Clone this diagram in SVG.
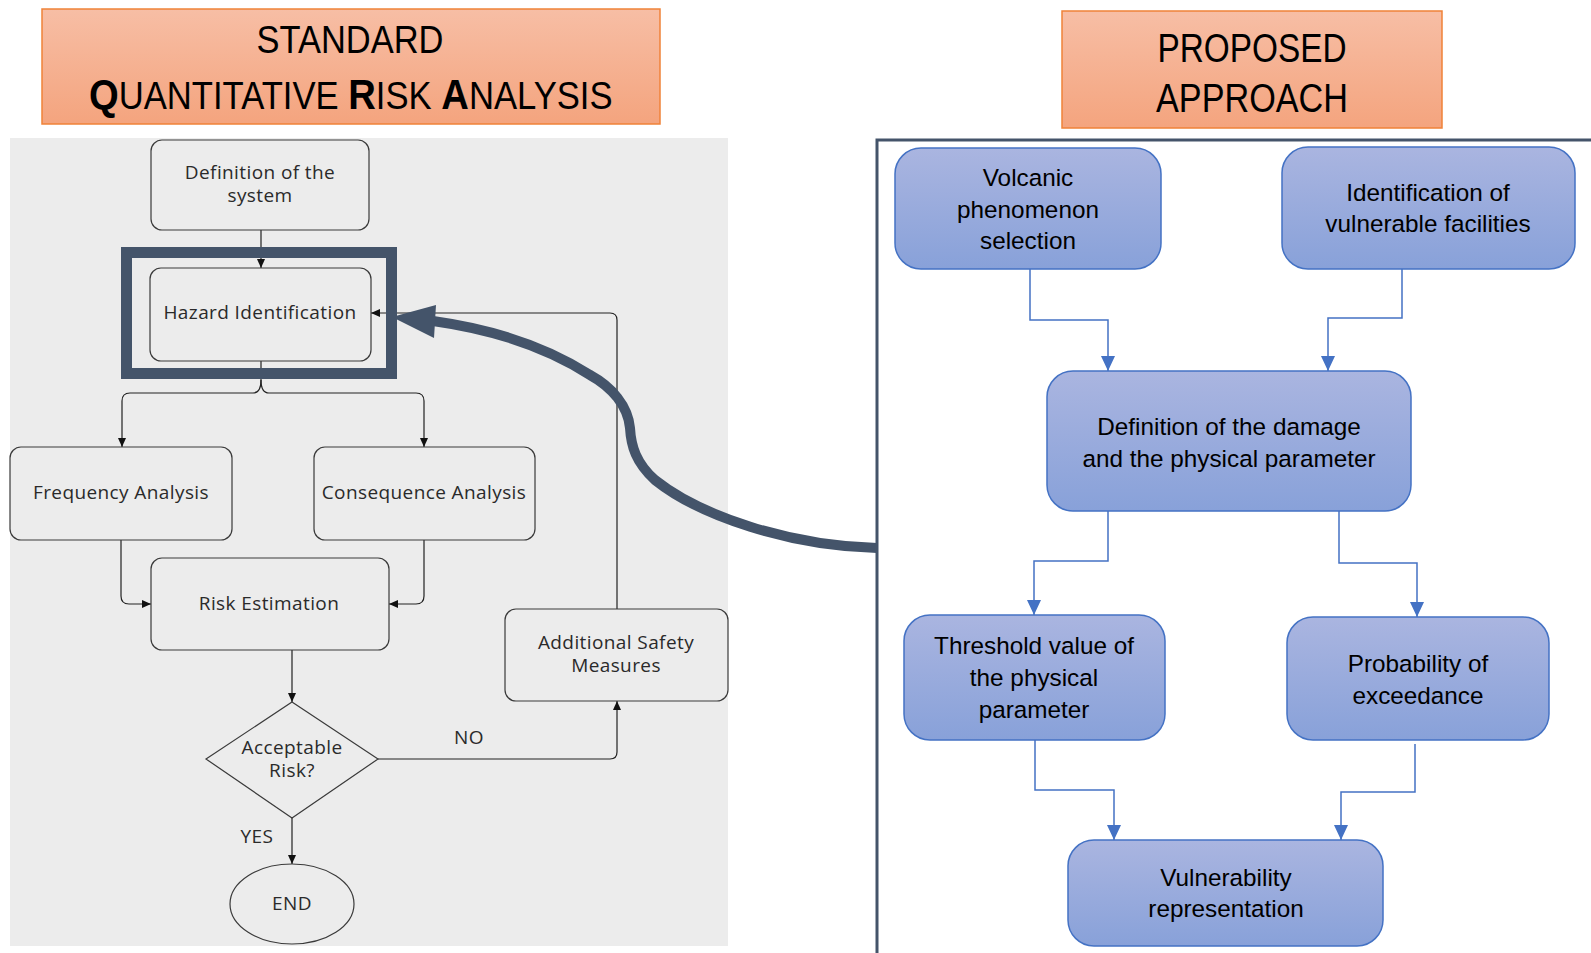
<svg xmlns="http://www.w3.org/2000/svg" width="1591" height="953" viewBox="0 0 1591 953">
<defs>
<linearGradient id="gOr" x1="0" y1="0" x2="0" y2="1">
<stop offset="0" stop-color="#f7bea5"/><stop offset="1" stop-color="#f4a47e"/>
</linearGradient>
<linearGradient id="gBl" x1="0" y1="0" x2="0" y2="1">
<stop offset="0" stop-color="#aab5e0"/><stop offset="1" stop-color="#88a1d9"/>
</linearGradient>
<marker id="aK" markerUnits="userSpaceOnUse" markerWidth="9" markerHeight="8" refX="9" refY="4" orient="auto">
<path d="M0,0 L9,4 L0,8 z" fill="#111"/>
</marker>
<marker id="aB" markerUnits="userSpaceOnUse" markerWidth="15" markerHeight="14" refX="15" refY="7" orient="auto">
<path d="M0,0 L15,7 L0,14 z" fill="#4472c4"/>
</marker>
<style>
.hdr{fill:url(#gOr);stroke:#f08238;stroke-width:1.5}
.ht{font-family:"Liberation Sans",Arial,sans-serif;fill:#000}
.lb{fill:#ececec;stroke:#3a3a3a;stroke-width:1.2}
.lt{font-family:"Open Sans","Liberation Sans",sans-serif;font-size:19px;fill:#2a2a2a;text-anchor:middle;letter-spacing:0.4px}
.bb{fill:url(#gBl);stroke:#4472c4;stroke-width:1.5}
.bt{font-family:"Liberation Sans",Arial,sans-serif;font-size:24.3px;fill:#000;text-anchor:middle}
.ck{fill:none;stroke:#222;stroke-width:1.2;marker-end:url(#aK)}
.cb{fill:none;stroke:#4472c4;stroke-width:1.5;marker-end:url(#aB)}
</style>
</defs>
<rect width="1591" height="953" fill="#fff"/>
<rect x="10" y="138" width="718" height="808" fill="#ececec"/>

<g id="header-standard">
<rect class="hdr" x="42" y="9" width="618" height="115"/>
<text class="ht" x="350" y="53" font-size="39" text-anchor="middle" textLength="187" lengthAdjust="spacingAndGlyphs">STANDARD</text>
<g transform="translate(89,109) scale(0.888,1)">
<text class="ht" x="0" y="0" font-size="39"><tspan font-weight="bold" font-size="43">Q</tspan>UANTITATIVE <tspan font-weight="bold" font-size="43">R</tspan>ISK <tspan font-weight="bold" font-size="43">A</tspan>NALYSIS</text>
</g>
</g>

<g id="header-proposed">
<rect class="hdr" x="1062" y="11" width="380" height="117"/>
<text class="ht" x="1252" y="62" font-size="41" text-anchor="middle" textLength="189" lengthAdjust="spacingAndGlyphs">PROPOSED</text>
<text class="ht" x="1252" y="112" font-size="41" text-anchor="middle" textLength="192" lengthAdjust="spacingAndGlyphs">APPROACH</text>
</g>

<g id="proposed-frame">
<path d="M1591 140 H877 V953" fill="none" stroke="#44546a" stroke-width="3"/>
</g>

<g id="connectors">
<path class="ck" d="M261 230 V268"/>
<path class="ck" d="M261 361 V380 Q261 393 253 393 H130 Q122 393 122 401 V447"/>
<path class="ck" d="M261 380 Q261 393 269 393 H416 Q424 393 424 401 V447"/>
<path class="ck" d="M121 540 V596 Q121 604 129 604 H151"/>
<path class="ck" d="M424 540 V596 Q424 604 416 604 H389"/>
<path class="ck" d="M292 650 V702"/>
<path class="ck" d="M378 759 H610 Q617 759 617 752 V701"/>
<path class="ck" d="M292 818 V864"/>
<path class="ck" d="M617 609 V320 Q617 313 610 313 H371"/>
<text class="lt" x="469" y="744">NO</text>
<text class="lt" x="257" y="843">YES</text>

<path class="cb" d="M1030 269 V320 H1108 V371"/>
<path class="cb" d="M1402 269 V318 H1328 V371"/>
<path class="cb" d="M1108 511 V561 H1034 V615"/>
<path class="cb" d="M1339 511 V563 H1417 V617"/>
<path class="cb" d="M1035 740 V790 H1114 V840"/>
<path class="cb" d="M1415 744 V792 H1341 V840"/>

<path d="M877 548 C790 546 700 516 655 480 C636 463 631 446 630 428 C628 406 612 387 590 375 C545 346 490 329 433 321" fill="none" stroke="#44546a" stroke-width="10"/>
<polygon points="392,317 436,305 434,338" fill="#44546a"/>
</g>

<g id="def-system">
<rect class="lb" x="151" y="140" width="218" height="90" rx="11"/>
<text class="lt" x="260" y="179">Definition of the</text>
<text class="lt" x="260" y="202">system</text>
</g>
<g id="hazard">
<rect class="lb" x="150" y="268" width="221" height="93" rx="11"/>
<text class="lt" x="260" y="319">Hazard Identification</text>
<rect x="126.5" y="252.5" width="265" height="121" fill="none" stroke="#44546a" stroke-width="11"/>
</g>
<g id="frequency">
<rect class="lb" x="10" y="447" width="222" height="93" rx="11"/>
<text class="lt" x="121" y="499">Frequency Analysis</text>
</g>
<g id="consequence">
<rect class="lb" x="314" y="447" width="221" height="93" rx="11"/>
<text class="lt" x="424" y="499">Consequence Analysis</text>
</g>
<g id="risk-estimation">
<rect class="lb" x="151" y="558" width="238" height="92" rx="11"/>
<text class="lt" x="269" y="610">Risk Estimation</text>
</g>
<g id="additional-safety">
<rect class="lb" x="505" y="609" width="223" height="92" rx="11"/>
<text class="lt" x="616" y="649">Additional Safety</text>
<text class="lt" x="616" y="672">Measures</text>
</g>
<g id="acceptable-risk">
<polygon class="lb" points="292,702 378,759 292,818 206,759"/>
<text class="lt" x="292" y="754">Acceptable</text>
<text class="lt" x="292" y="777">Risk?</text>
</g>
<g id="end">
<ellipse class="lb" cx="292" cy="904" rx="62" ry="40"/>
<text class="lt" x="292" y="910">END</text>
</g>

<g id="volcanic">
<rect class="bb" x="895" y="148" width="266" height="121" rx="26"/>
<text class="bt" x="1028" y="186">Volcanic</text>
<text class="bt" x="1028" y="218">phenomenon</text>
<text class="bt" x="1028" y="249">selection</text>
</g>
<g id="identification">
<rect class="bb" x="1282" y="147" width="293" height="122" rx="26"/>
<text class="bt" x="1428" y="201">Identification of</text>
<text class="bt" x="1428" y="232">vulnerable facilities</text>
</g>
<g id="damage">
<rect class="bb" x="1047" y="371" width="364" height="140" rx="26"/>
<text class="bt" x="1229" y="435">Definition of the damage</text>
<text class="bt" x="1229" y="467">and the physical parameter</text>
</g>
<g id="threshold">
<rect class="bb" x="904" y="615" width="261" height="125" rx="26"/>
<text class="bt" x="1034" y="654">Threshold value of</text>
<text class="bt" x="1034" y="686">the physical</text>
<text class="bt" x="1034" y="718">parameter</text>
</g>
<g id="probability">
<rect class="bb" x="1287" y="617" width="262" height="123" rx="26"/>
<text class="bt" x="1418" y="672">Probability of</text>
<text class="bt" x="1418" y="704">exceedance</text>
</g>
<g id="vulnerability">
<rect class="bb" x="1068" y="840" width="315" height="106" rx="26"/>
<text class="bt" x="1226" y="886">Vulnerability</text>
<text class="bt" x="1226" y="917">representation</text>
</g>
</svg>
